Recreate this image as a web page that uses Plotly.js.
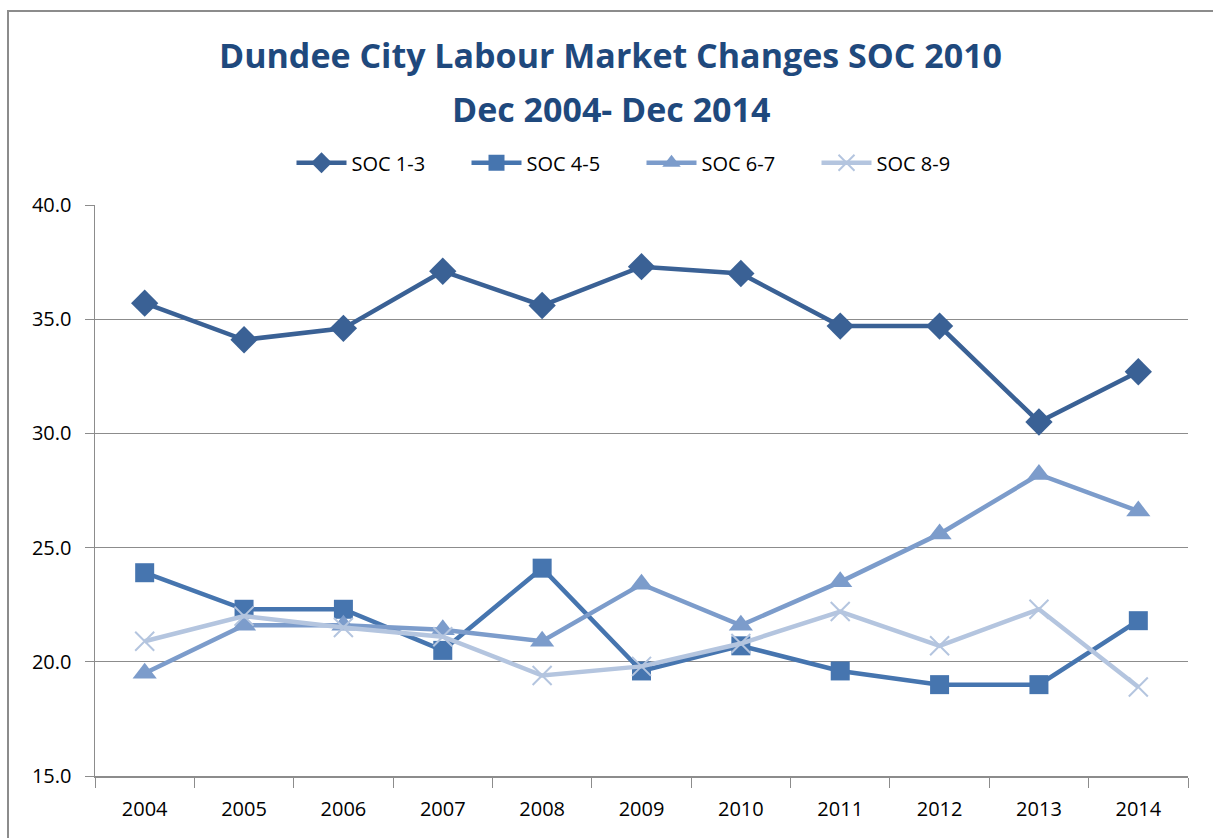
<!DOCTYPE html>
<html><head><meta charset="utf-8">
<script src="https://cdn.plot.ly/plotly-3.0.1.min.js"></script>
<style>
html,body{margin:0;padding:0;background:#fff;overflow:hidden;}
#frame{position:absolute;left:7px;top:10px;width:1220px;height:840px;border:2px solid #8c8c8c;box-sizing:border-box;}
#chart{position:absolute;left:0;top:0;width:1213px;height:838px;}
</style></head>
<body>
<div id="frame"></div>
<div id="chart"></div>
<script>
var years = ["2004","2005","2006","2007","2008","2009","2010","2011","2012","2013","2014"];
var soc13 = [35.7, 34.1, 34.6, 37.1, 35.6, 37.3, 37.0, 34.7, 34.7, 30.5, 32.7];
var soc45 = [23.9, 22.3, 22.3, 20.5, 24.1, 19.6, 20.7, 19.6, 19.0, 19.0, 21.8];
var soc67 = [19.5, 21.6, 21.6, 21.4, 20.9, 23.4, 21.6, 23.5, 25.6, 28.2, 26.6];
var soc89 = [20.9, 22.0, 21.5, 21.1, 19.4, 19.8, 20.8, 22.2, 20.7, 22.3, 18.9];
var seriesNames = ["SOC 1-3","SOC 4-5","SOC 6-7","SOC 8-9"];
var titleLines = ["Dundee City Labour Market Changes SOC 2010", "Dec 2004- Dec 2014"];

var traces = [
 {x: years, y: soc13, name: seriesNames[0], mode:'lines+markers',
  line:{color:'#3A6195', width:4.5}, marker:{symbol:'diamond', size:21, color:'#3A6195'}},
 {x: years, y: soc45, name: seriesNames[1], mode:'lines+markers',
  line:{color:'#4675AF', width:4.5}, marker:{symbol:'square', size:19, color:'#4675AF'}},
 {x: years, y: soc67, name: seriesNames[2], mode:'lines+markers',
  line:{color:'#7C9CCB', width:4.5}, marker:{symbol:'triangle-up', size:21, color:'#7C9CCB'}},
 {x: years, y: soc89, name: seriesNames[3], mode:'lines+markers',
  line:{color:'#B4C5DF', width:4.5}, marker:{symbol:'x-thin-open', size:19, color:'#B4C5DF', line:{width:2, color:'#B4C5DF'}}}
];

var tfont = {family:'Open Sans', size:34, color:'#1F497D', weight:'bold'};
var layout = {
  width:1213, height:838,
  paper_bgcolor:'rgba(0,0,0,0)', plot_bgcolor:'rgba(0,0,0,0)',
  margin:{l:95, r:25, t:205, b:62},
  annotations:[
    {text:titleLines[0], xref:'paper', yref:'paper', x:0.472, y:1.262, xanchor:'center', yanchor:'middle', showarrow:false, font:tfont},
    {text:titleLines[1], xref:'paper', yref:'paper', x:0.472, y:1.168, xanchor:'center', yanchor:'middle', showarrow:false, font:tfont}
  ],
  showlegend:true,
  legend:{orientation:'h', x:0.5, xanchor:'center', y:1.074, yanchor:'middle',
    font:{family:'Open Sans', size:20, color:'#000'}, itemwidth:50,
    entrywidth:110, entrywidthmode:'pixels'},
  xaxis:{type:'category', range:[-0.5,10.5], tickson:'boundaries', ticks:'outside', ticklen:10,
    tickcolor:'#8c8c8c', showline:true, linecolor:'#8c8c8c', linewidth:1.5, showgrid:false,
    ticklabelstandoff:14,
    tickfont:{family:'Open Sans', size:20, color:'#000'}, fixedrange:true},
  yaxis:{range:[15,40], dtick:5, tickformat:'.1f', ticks:'outside', ticklen:9, tickcolor:'#8c8c8c',
    showline:true, linecolor:'#8c8c8c', linewidth:1.5, gridcolor:'#8c8c8c', gridwidth:1.2,
    ticklabelstandoff:9,
    zeroline:false, tickfont:{family:'Open Sans', size:20, color:'#000'}}
};
Plotly.newPlot('chart', traces, layout, {displayModeBar:false, staticPlot:true});
</script>
</body></html>
